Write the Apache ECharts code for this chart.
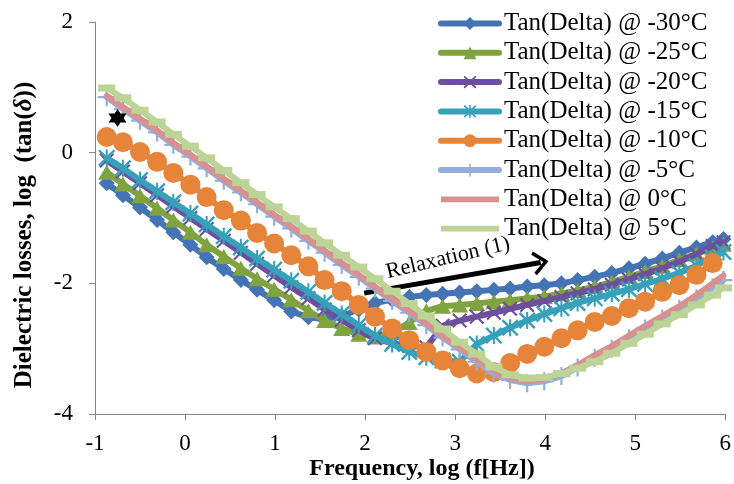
<!DOCTYPE html>
<html><head><meta charset="utf-8">
<script src="https://cdn.jsdelivr.net/npm/echarts@6/dist/echarts.min.js"></script>
<style>html,body{margin:0;padding:0;background:#fff}#c{width:734px;height:484px}</style>
</head><body><div id="c"></div>
<script>
// ---- data (log10 values) ----
const logFreq = [-0.87,-0.69,-0.50,-0.31,-0.13,0.06,0.24,0.43,0.62,0.80,0.99,1.18,1.37,1.55,1.74,1.93,2.11,2.30,2.49,2.68,2.86,3.05,3.24,3.43,3.61,3.80,3.99,4.18,4.36,4.55,4.74,4.93,5.11,5.30,5.49,5.68,5.86,5.98];
const tanM30 = [-0.47,-0.65,-0.84,-1.03,-1.22,-1.41,-1.60,-1.78,-1.95,-2.10,-2.26,-2.43,-2.52,-2.55,-2.50,-2.40,-2.30,-2.25,-2.21,-2.18,-2.16,-2.14,-2.12,-2.10,-2.08,-2.05,-2.03,-2.00,-1.95,-1.90,-1.84,-1.77,-1.70,-1.62,-1.53,-1.45,-1.37,-1.32];
const tanM25 = [-0.30,-0.48,-0.66,-0.85,-1.03,-1.22,-1.41,-1.59,-1.77,-1.93,-2.09,-2.25,-2.42,-2.57,-2.69,-2.78,-2.82,-2.75,-2.60,-2.42,-2.35,-2.33,-2.31,-2.28,-2.26,-2.23,-2.20,-2.16,-2.11,-2.05,-1.98,-1.90,-1.82,-1.74,-1.64,-1.55,-1.46,-1.40];
const tanM20 = [-0.12,-0.29,-0.47,-0.65,-0.82,-1.00,-1.17,-1.35,-1.53,-1.70,-1.88,-2.06,-2.23,-2.40,-2.56,-2.72,-2.84,-2.92,-2.96,-2.98,-2.65,-2.57,-2.51,-2.45,-2.39,-2.33,-2.27,-2.21,-2.15,-2.09,-2.02,-1.94,-1.86,-1.77,-1.67,-1.55,-1.43,-1.37];
const tanM15 = [-0.08,-0.24,-0.42,-0.59,-0.76,-0.93,-1.10,-1.28,-1.45,-1.62,-1.79,-1.96,-2.13,-2.30,-2.47,-2.64,-2.80,-2.93,-3.05,-3.13,-3.18,-3.20,-2.93,-2.80,-2.68,-2.57,-2.47,-2.38,-2.30,-2.23,-2.16,-2.09,-2.01,-1.93,-1.84,-1.73,-1.60,-1.52];
const tanM10 = [0.24,0.16,0.01,-0.14,-0.31,-0.49,-0.68,-0.88,-1.04,-1.23,-1.39,-1.57,-1.74,-1.95,-2.12,-2.33,-2.51,-2.69,-2.87,-3.05,-3.18,-3.30,-3.38,-3.36,-3.22,-3.08,-2.97,-2.84,-2.72,-2.59,-2.50,-2.38,-2.28,-2.13,-2.03,-1.87,-1.69,null];
const tanM5 = [0.85,0.67,0.49,0.31,0.12,-0.06,-0.24,-0.43,-0.61,-0.79,-0.98,-1.16,-1.35,-1.53,-1.72,-1.90,-2.08,-2.27,-2.45,-2.64,-2.83,-3.01,-3.20,-3.38,-3.48,-3.53,-3.50,-3.42,-3.29,-3.14,-3.00,-2.84,-2.69,-2.54,-2.39,-2.23,-2.06,-1.95];
const tan0 = [0.87,0.70,0.52,0.34,0.15,-0.03,-0.21,-0.40,-0.58,-0.76,-0.95,-1.13,-1.32,-1.50,-1.69,-1.87,-2.05,-2.24,-2.42,-2.61,-2.80,-2.98,-3.16,-3.34,-3.45,-3.50,-3.47,-3.38,-3.25,-3.10,-2.96,-2.80,-2.65,-2.50,-2.35,-2.18,-2.00,-1.88];
const tan5 = [0.99,0.84,0.65,0.47,0.28,0.10,-0.08,-0.27,-0.46,-0.64,-0.83,-1.01,-1.20,-1.38,-1.57,-1.75,-1.93,-2.12,-2.31,-2.50,-2.70,-2.90,-3.08,-3.28,-3.40,-3.45,-3.44,-3.38,-3.30,-3.20,-3.07,-2.92,-2.78,-2.62,-2.48,-2.33,-2.18,-2.07];
const seriesNames = ['Tan(Delta) @ -30°C','Tan(Delta) @ -25°C','Tan(Delta) @ -20°C','Tan(Delta) @ -15°C','Tan(Delta) @ -10°C','Tan(Delta) @ -5°C','Tan(Delta) @ 0°C','Tan(Delta) @ 5°C'];
const seriesValues = [tanM30, tanM25, tanM20, tanM15, tanM10, tanM5, tan0, tan5];
const starPoint = [[-0.75, 0.53]];
const arrowStart = [1.99, -2.15];
const arrowEnd = [3.95, -1.68];
const xAxisTitle = 'Frequency, log (f[Hz])';
const annotationText = 'Relaxation (1)';

// ---- styles ----
const FONT = '"Liberation Serif","Times New Roman",serif';
const colors = ['#4474B4','#7FA33F','#6E4F9C','#36A1BB','#E6843A','#93AEDB','#D9908F','#BCD495'];
const P_X = 'path://M0,1 L1,0 L5,4 L9,0 L10,1 L6,5 L10,9 L9,10 L5,6 L1,10 L0,9 L4,5 Z';
const P_AST = 'path://M0,1 L1,0 L5,4 L9,0 L10,1 L6,5 L10,9 L9,10 L5,6 L1,10 L0,9 L4,5 Z M4.4,0 L5.6,0 L5.6,10 L4.4,10 Z';
const P_PLUS = 'path://M4.4,0 L5.6,0 L5.6,4.4 L10,4.4 L10,5.6 L5.6,5.6 L5.6,10 L4.4,10 L4.4,5.6 L0,5.6 L0,4.4 L4.4,4.4 Z';
const P_STAR = 'path://M5,0 L9.33,7.5 L0.67,7.5 Z M0.67,2.5 L9.33,2.5 L5,10 Z';
const P_CHEV = 'path://M0,13 L11,0 L22,13 L19.4,15 L11,5 L2.6,15 Z';
const P_BAR = 'path://M0,0 L100,0 L100,10 L0,10 Z';
const symbols = ['diamond','triangle',P_X,P_AST,'circle',P_PLUS,'none','rect'];
const symbolSizes = [16,[17,15],15,17,20,18,0,[17,7]];

const series = seriesNames.map((name, i) => ({
  name: name,
  type: 'line',
  z: 2 + i,
  data: logFreq.map((x, k) => [x, seriesValues[i][k]]),
  symbol: symbols[i],
  symbolSize: symbolSizes[i],
  showSymbol: symbols[i] !== 'none',
  showAllSymbol: true,
  connectNulls: false,
  smooth: false,
  lineStyle: { color: colors[i], width: 6, cap: 'round', join: 'round' },
  itemStyle: { color: colors[i], opacity: 1 },
  emphasis: { disabled: true },
  silent: true
}));

series.push({
  name: 'marker',
  type: 'scatter',
  z: 20,
  data: starPoint,
  symbol: P_STAR,
  symbolSize: 18,
  itemStyle: { color: '#000', opacity: 1 },
  silent: true,
  markLine: {
    silent: true,
    symbol: ['none', P_CHEV],
    symbolSize: [24, 16],
    lineStyle: { color: '#000', width: 5, type: 'solid', opacity: 1 },
    label: { show: false },
    emphasis: { disabled: true },
    data: [[{ coord: arrowStart }, { coord: arrowEnd }]]
  }
});

const legendData = seriesNames.map((n, i) => (i >= 6 ? { name: n, icon: P_BAR } : { name: n }));

const chart = echarts.init(document.getElementById('c'), null, { renderer: 'canvas' });
chart.setOption({
  animation: false,
  backgroundColor: '#fff',
  grid: { left: 95, right: 7, top: 22, bottom: 70, containLabel: false },
  xAxis: {
    type: 'value', min: -1, max: 6, interval: 1,
    axisLine: { show: true, onZero: false, lineStyle: { color: '#868686', width: 1 } },
    axisTick: { show: true, inside: false, length: 6, lineStyle: { color: '#868686' } },
    splitLine: { show: false },
    axisLabel: { fontFamily: FONT, fontSize: 23, color: '#000', margin: 18, showMinLabel: true, showMaxLabel: true }
  },
  yAxis: {
    type: 'value', min: -4, max: 2, interval: 2,
    axisLine: { show: true, onZero: false, lineStyle: { color: '#868686', width: 1 } },
    axisTick: { show: true, inside: false, length: 6, lineStyle: { color: '#868686' } },
    splitLine: { show: false },
    axisLabel: { fontFamily: FONT, fontSize: 23, color: '#000', margin: 22, showMinLabel: true, showMaxLabel: true }
  },
  legend: {
    orient: 'vertical', left: 438, top: 11, align: 'left', padding: 0,
    itemWidth: 58, itemHeight: 16, itemGap: 4.3,
    selectedMode: false,
    lineStyle: { width: 6, cap: 'round' },
    textStyle: { fontFamily: FONT, fontSize: 25, color: '#000', lineHeight: 24 },
    data: legendData
  },
  graphic: [
    {
      type: 'text', x: 422, y: 469, silent: true,
      style: { text: xAxisTitle, font: 'bold 24px ' + FONT, fill: '#000', align: 'center', verticalAlign: 'middle' }
    },
    {
      type: 'text', x: 25, y: 235, rotation: Math.PI / 2, silent: true,
      style: {
        text: '{a|Dielectric losses, log  (tan(}{b|δ}{a|))}',
        align: 'center', verticalAlign: 'middle',
        rich: {
          a: { font: 'bold 25px ' + FONT, fill: '#000' },
          b: { font: 'italic bold 25px ' + FONT, fill: '#000' }
        }
      }
    },
    {
      type: 'text', x: 448, y: 258, rotation: 13.3 * Math.PI / 180, silent: true,
      style: { text: annotationText, font: '22px ' + FONT, fill: '#000', align: 'center', verticalAlign: 'middle' }
    }
  ],
  series: series
});
</script></body></html>
